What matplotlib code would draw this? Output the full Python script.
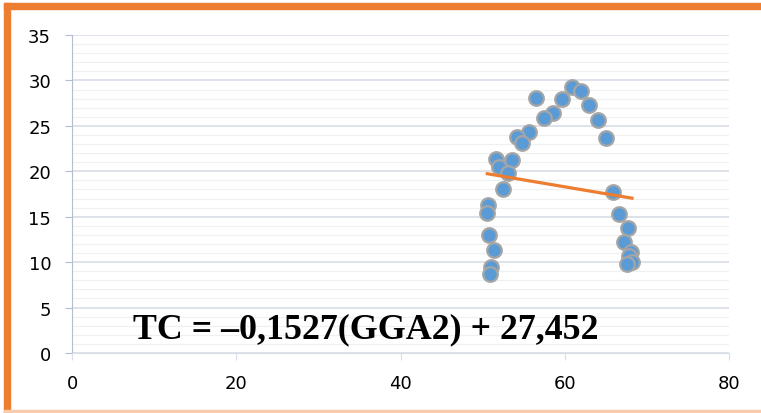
import matplotlib
matplotlib.use('Agg')
import matplotlib.pyplot as plt
from matplotlib.patches import Rectangle
from matplotlib.ticker import MultipleLocator
import numpy as np

# GGA2 vs TC observations
gga2 = [60.85, 61.94, 56.50, 59.66, 63.00, 58.57, 57.47, 64.05, 55.61, 54.15,
        54.83, 65.02, 51.63, 53.54, 52.03, 53.05, 52.52, 65.91, 50.69, 50.57,
        66.64, 67.70, 50.78, 67.25, 51.35, 68.03, 67.86, 68.19, 67.62, 51.05,
        50.85]
tc = [29.24, 28.80, 28.03, 27.92, 27.26, 26.38, 25.83, 25.64, 24.36, 23.77,
      23.11, 23.63, 21.38, 21.20, 20.47, 19.78, 18.05, 17.75, 16.29, 15.37,
      15.26, 13.72, 13.02, 12.24, 11.33, 11.14, 10.71, 10.05, 9.79, 9.46,
      8.70]

# linear trend
slope = -0.1527
intercept = 27.452
eq_label = 'TC = –0,1527(GGA2) + 27,452'

x_ticks = [0, 20, 40, 60, 80]
y_ticks = [0, 5, 10, 15, 20, 25, 30, 35]

W, H = 761, 414
fig = plt.figure(figsize=(W / 100, H / 100), dpi=100)
ax = fig.add_axes([72 / W, 1 - 354 / H, (729 - 72) / W, (354 - 36) / H])

ax.set_xlim(0, 80)
ax.set_ylim(0, 35)
ax.set_xticks(x_ticks)
ax.set_yticks(y_ticks)
ax.yaxis.set_minor_locator(MultipleLocator(1))
ax.grid(which='major', axis='y', color='#d5dae4', lw=1.1, zorder=0)
ax.grid(which='minor', axis='y', color='#eff0f2', lw=0.9, zorder=0)
ax.tick_params(axis='y', which='minor', length=0)

for s in ['top', 'right']:
    ax.spines[s].set_visible(False)
ax.spines['left'].set_color('#b4bccd')
ax.spines['bottom'].set_color('#d9dde6')
ax.tick_params(axis='y', which='major', length=5, color='#b4bccd', pad=10)
ax.tick_params(axis='x', which='major', length=5, color='#d9dde6', pad=10)

tick_font = ['Liberation Sans Narrow', 'DejaVu Sans']
for lab in ax.get_xticklabels() + ax.get_yticklabels():
    lab.set_fontfamily(tick_font)
    lab.set_fontsize(13)
    lab.set_color('#000000')

ax.scatter(gga2, tc, s=110, c='#5b9bd5', edgecolors='#a5a5a5', linewidths=1.6, zorder=3)

xs = np.array([min(gga2), max(gga2)])
ax.plot(xs, slope * xs + intercept, color='#ed7d31', lw=2.3, zorder=4)

ax.text(35.8, 1.76, eq_label, ha='center', va='baseline',
        fontfamily='Liberation Serif', fontweight='bold', fontsize=25.8, zorder=5)

# orange frame on top and left, faint line at the bottom
fig.patches.append(Rectangle((4 / W, 1 - 10 / H), 1, 6 / H, transform=fig.transFigure,
                             color='#ed7d31', zorder=10))
fig.patches.append(Rectangle((4 / W, 0), 6 / W, 1 - 4 / H, transform=fig.transFigure,
                             color='#ed7d31', zorder=10))
fig.patches.append(Rectangle((4 / W, 0), 1, 3 / H, transform=fig.transFigure,
                             color='#f8cbad', zorder=10))

fig.savefig('out.png', dpi=100)
